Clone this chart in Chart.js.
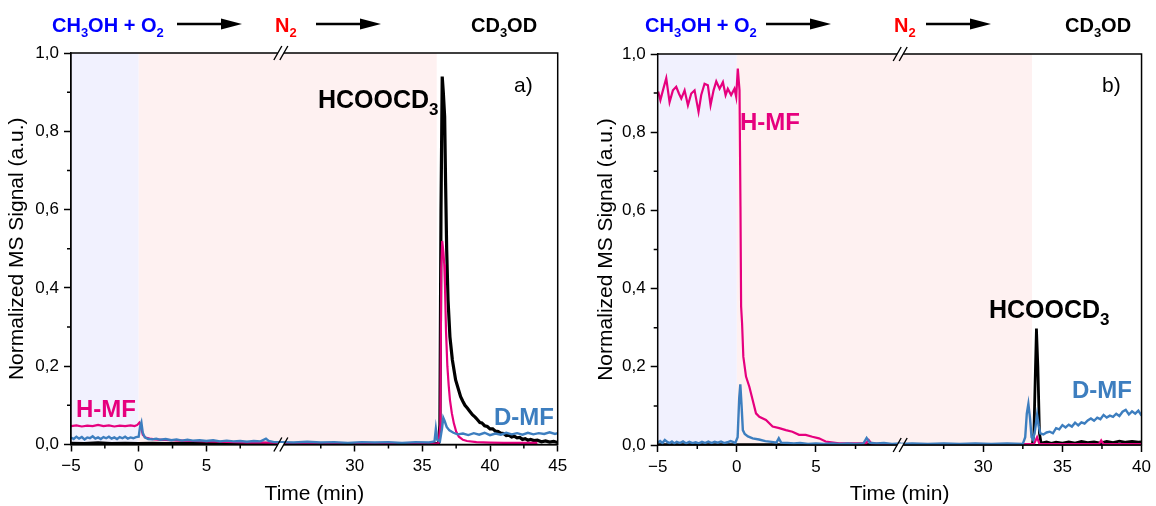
<!DOCTYPE html>
<html><head><meta charset="utf-8">
<script src="https://cdn.jsdelivr.net/npm/chart.js@4.4.0/dist/chart.umd.min.js"></script>
<style>
html,body{margin:0;padding:0;background:#fff;}
body{width:1156px;height:506px;overflow:hidden;position:relative;}
.cw{position:absolute;top:0;width:578px;height:506px;}
canvas{display:block;}
</style></head><body>
<div class="cw" style="left:0"><canvas id="ca" width="578" height="506"></canvas></div>
<div class="cw" style="left:578px"><canvas id="cb" width="578" height="506"></canvas></div>
<script>
// ---------------- DATA (time in min, normalized signal) ----------------
const yTicks = [0, 0.2, 0.4, 0.6, 0.8, 1.0];
const yMinor = [0.1, 0.3, 0.5, 0.7, 0.9];
const xMajorA = [-5, 0, 5, 30, 35, 40, 45];
const xMinorA = [-2.5, 2.5, 7.5, 27.5, 32.5, 37.5, 42.5];
const xMajorB = [-5, 0, 5, 30, 35, 40];
const xMinorB = [-2.5, 2.5, 7.5, 27.5, 32.5, 37.5];

// Panel a)
const aHMF = [[-5,0.047],[-4.6,0.049],[-4.2,0.046],[-3.8,0.048],[-3.4,0.047],[-3.0,0.05],[-2.6,0.047],[-2.2,0.049],[-1.8,0.046],[-1.4,0.048],[-1.0,0.047],[-0.6,0.049],[-0.3,0.047],[-0.1,0.05],[0.05,0.056],[0.15,0.05],[0.3,0.025],[0.5,0.018],[0.8,0.015],[1.2,0.013],[1.8,0.012],[2.5,0.011],[3.2,0.01],[4,0.009],[5,0.008],[6,0.007],[7,0.006],[8,0.005],[9,0.005],[10.3,0.004],
 [24.6,0.003],[27,0.003],[30,0.003],[33,0.002],[36.2,0.003],[36.33,0.05],[36.4,0.45],[36.47,0.52],[36.56,0.49],[36.62,0.46],[36.67,0.41],[36.75,0.29],[36.85,0.2],[36.95,0.15],[37.04,0.114],[37.18,0.08],[37.33,0.054],[37.5,0.033],[37.7,0.02],[38,0.012],[38.3,0.009],[39,0.006],[40,0.005],[41,0.004],[42,0.004],[43.5,0.004]];
const aDMF = [[-5,0.018],[-4.8,0.014],[-4.6,0.02],[-4.4,0.015],[-4.2,0.019],[-4.0,0.013],[-3.8,0.018],[-3.6,0.016],[-3.4,0.021],[-3.2,0.015],[-3.0,0.018],[-2.8,0.014],[-2.6,0.019],[-2.4,0.016],[-2.2,0.02],[-2.0,0.015],[-1.8,0.018],[-1.6,0.014],[-1.4,0.019],[-1.2,0.016],[-1.0,0.02],[-0.8,0.015],[-0.6,0.018],[-0.4,0.016],[-0.2,0.019],[0.0,0.02],[0.1,0.045],[0.2,0.056],[0.3,0.03],[0.45,0.018],[0.7,0.014],[1.0,0.013],[1.3,0.015],[1.6,0.012],[2.0,0.014],[2.4,0.011],[2.8,0.013],[3.2,0.01],[3.6,0.012],[4.0,0.01],[4.5,0.011],[5.0,0.009],[5.5,0.011],[6.0,0.008],[6.5,0.01],[7.0,0.008],[7.5,0.009],[8.0,0.007],[8.5,0.009],[9.0,0.008],[9.4,0.015],[9.6,0.009],[10.0,0.006],
 [24.6,0.006],[25.5,0.005],[26.5,0.007],[27.5,0.005],[28.5,0.006],[29.5,0.004],[30.5,0.006],[31.5,0.005],[32.5,0.006],[33.5,0.004],[34.5,0.006],[35.5,0.005],[35.9,0.008],[36.0,0.04],[36.1,0.012],[36.3,0.008],[36.45,0.04],[36.55,0.068],[36.65,0.06],[36.8,0.045],[37.0,0.036],[37.3,0.03],[37.6,0.026],[38.0,0.028],[38.4,0.024],[38.8,0.029],[39.2,0.025],[39.6,0.03],[40.0,0.024],[40.4,0.028],[40.8,0.025],[41.2,0.03],[41.6,0.026],[42.0,0.029],[42.4,0.025],[42.8,0.03],[43.2,0.026],[43.6,0.029],[44.0,0.027],[44.4,0.031],[44.8,0.027],[45,0.029]];
const aHCO = [[-5,0.003],[-4,0.002],[-3,0.004],[-2,0.002],[-1,0.003],[0,0.002],[1,0.003],[2,0.002],[3,0.003],[4,0.002],[5,0.003],[6,0.002],[7,0.003],[8,0.002],[9,0.003],[10.3,0.002],
 [24.6,0.002],[27,0.002],[30,0.002],[33,0.002],[35,0.002],[36.2,0.002],[36.3,0.05],[36.38,0.6],[36.47,0.94],[36.55,0.9],[36.65,0.837],[36.72,0.667],[36.8,0.497],[36.9,0.369],[37.04,0.275],[37.22,0.216],[37.46,0.165],[37.83,0.122],[38.0,0.11],[38.15,0.1],[38.32,0.093],[38.5,0.085],[38.7,0.076],[38.9,0.07],[39.06,0.064],[39.25,0.056],[39.4,0.055],[39.6,0.048],[39.8,0.046],[40.0,0.04],[40.2,0.04],[40.4,0.034],[40.6,0.033],[40.78,0.029],[41.0,0.028],[41.2,0.023],[41.4,0.024],[41.6,0.019],[41.8,0.021],[42.0,0.017],[42.2,0.018],[42.4,0.013],[42.6,0.015],[42.8,0.011],[43.0,0.013],[43.24,0.01],[43.5,0.011],[43.8,0.007],[44.1,0.009],[44.4,0.006],[44.7,0.008],[45.0,0.005]];

// Panel b)
const bHMF = [[-4.97,0.904],[-4.83,0.882],[-4.67,0.907],[-4.46,0.938],[-4.25,0.877],[-4.04,0.907],[-3.83,0.916],[-3.66,0.899],[-3.51,0.886],[-3.3,0.907],[-3.09,0.869],[-2.88,0.899],[-2.67,0.907],[-2.42,0.852],[-2.25,0.895],[-2.04,0.924],[-1.83,0.92],[-1.66,0.869],[-1.47,0.907],[-1.3,0.93],[-1.09,0.911],[-0.88,0.928],[-0.71,0.895],[-0.57,0.911],[-0.36,0.895],[-0.15,0.911],[-0.04,0.89],[0.06,0.963],[0.17,0.907],[0.23,0.61],[0.27,0.354],[0.33,0.312],[0.41,0.226],[0.58,0.175],[0.79,0.149],[1.0,0.115],[1.21,0.081],[1.42,0.072],[1.84,0.064],[2.26,0.047],[2.68,0.043],[3.1,0.038],[3.51,0.034],[3.93,0.026],[4.35,0.026],[4.77,0.021],[5.19,0.017],[5.61,0.009],[6.45,0.004],[7.29,0.004],[8.15,0.004],[8.33,0.013],[8.5,0.004],[8.96,0.003],[10.3,0.002],
 [24.8,0.002],[28,0.002],[31,0.002],[33.2,0.002],[33.4,0.02],[33.55,0.002],[36,0.002],[37.3,0.002],[37.45,0.012],[37.6,0.002],[40,0.002]];
const bDMF = [[-5,0.006],[-4.85,0.01],[-4.7,0.005],[-4.55,0.013],[-4.4,0.008],[-4.25,0.005],[-4.1,0.009],[-3.95,0.004],[-3.8,0.008],[-3.6,0.005],[-3.4,0.009],[-3.2,0.004],[-3.0,0.008],[-2.8,0.005],[-2.6,0.007],[-2.4,0.004],[-2.2,0.008],[-2.0,0.005],[-1.8,0.009],[-1.6,0.005],[-1.4,0.008],[-1.2,0.006],[-1.0,0.009],[-0.8,0.005],[-0.6,0.007],[-0.4,0.01],[-0.25,0.008],[-0.1,0.005],[0.05,0.02],[0.15,0.12],[0.22,0.155],[0.3,0.1],[0.38,0.038],[0.5,0.028],[0.7,0.022],[1.0,0.017],[1.4,0.014],[1.8,0.01],[2.2,0.008],[2.5,0.006],[2.65,0.017],[2.8,0.006],[3.2,0.005],[3.6,0.004],[4.0,0.005],[4.5,0.003],[5.0,0.004],[5.5,0.003],[6.0,0.004],[6.5,0.003],[7.0,0.004],[7.5,0.003],[8.0,0.004],[8.2,0.018],[8.4,0.006],[8.8,0.004],[9.3,0.005],[9.8,0.003],[10.3,0.004],
 [24.8,0.003],[25.5,0.004],[26.5,0.003],[27.5,0.004],[28.5,0.003],[29.5,0.004],[30.5,0.003],[31.5,0.004],[32.5,0.003],[32.65,0.02],[32.75,0.08],[32.85,0.105],[32.95,0.07],[33.05,0.02],[33.15,0.013],[33.28,0.04],[33.4,0.077],[33.5,0.05],[33.6,0.03],[33.8,0.027],[34.0,0.032],[34.2,0.034],[34.4,0.03],[34.6,0.043],[34.8,0.04],[35.0,0.051],[35.2,0.045],[35.4,0.052],[35.6,0.047],[35.8,0.057],[36.0,0.05],[36.2,0.058],[36.4,0.055],[36.6,0.063],[36.8,0.068],[37.0,0.062],[37.2,0.07],[37.4,0.066],[37.6,0.077],[37.8,0.07],[38.0,0.075],[38.2,0.072],[38.4,0.08],[38.6,0.074],[38.8,0.085],[39.0,0.09],[39.2,0.078],[39.4,0.086],[39.6,0.08],[39.8,0.088],[40.0,0.075]];
const bHCO = [[-5,0.001],[0,0.001],[5,0.001],[10.3,0.001],[24.8,0.001],[30,0.001],[33.1,0.002],[33.2,0.03],[33.3,0.2],[33.36,0.298],[33.45,0.2],[33.55,0.03],[33.65,0.005],[34,0.008],[34.3,0.004],[34.6,0.007],[35,0.005],[35.4,0.008],[35.8,0.005],[36.2,0.009],[36.6,0.006],[37,0.008],[37.4,0.005],[37.8,0.009],[38.2,0.006],[38.6,0.01],[39,0.007],[39.4,0.009],[39.8,0.007],[40,0.008]];

// ---------------- STYLE ----------------
const FONT = '"Liberation Sans", Arial, Helvetica, sans-serif';
const C_H = '#E6007E', C_D = '#3D7EBF', C_K = '#000000';
const BLUE_BG = '#F1F1FE', PINK_BG = '#FEF1F1';

function richText(ctx, x, y, parts, size, color, weight){
  let cx = x;
  ctx.fillStyle = color; ctx.textAlign = 'left'; ctx.textBaseline = 'alphabetic';
  parts.forEach(p => {
    const sub = p[1] === 1; const fs = sub ? Math.round(size * 0.66) : size;
    ctx.font = (weight||'bold') + ' ' + fs + 'px ' + FONT;
    ctx.fillText(p[0], cx, sub ? y + size * 0.26 : y);
    cx += ctx.measureText(p[0]).width;
  });
}
function arrow(ctx, x0, x1, y){
  ctx.save(); ctx.strokeStyle = '#000'; ctx.fillStyle = '#000'; ctx.lineWidth = 2.5;
  ctx.beginPath(); ctx.moveTo(x0, y); ctx.lineTo(x1 - 18, y); ctx.stroke();
  ctx.beginPath(); ctx.moveTo(x1, y); ctx.lineTo(x1 - 21, y - 5.5); ctx.lineTo(x1 - 21, y + 5.5); ctx.closePath(); ctx.fill();
  ctx.restore();
}

function makeChart(id, cfg){
  const B1 = cfg.B1, D = cfg.B2 - cfg.B1;
  const fx = t => (t <= B1 ? t : t - D);
  const pts = arr => arr.map(p => ({x: fx(p[0]), y: p[1]}));
  const labels = cfg.majors.map(v => (v < 0 ? '\u2212' + Math.abs(v) : String(v)));
  const deco = {
    id: 'deco',
    beforeDatasetsDraw(chart){
      const {ctx, chartArea: a, scales: {x}} = chart;
      ctx.save();
      cfg.bands.forEach(b => {
        const x0 = x.getPixelForValue(fx(b[0])), x1 = x.getPixelForValue(fx(b[1]));
        ctx.fillStyle = b[2]; ctx.fillRect(x0, a.top, x1 - x0, a.bottom - a.top);
      });
      ctx.restore();
    },
    afterDraw(chart){
      const {ctx, chartArea: a, scales: {x, y}} = chart;
      ctx.save();
      ctx.strokeStyle = '#000'; ctx.lineWidth = 1.5;
      ctx.strokeRect(a.left, a.top, a.right - a.left, a.bottom - a.top);
      ctx.beginPath();
      cfg.minors.forEach(t => { const px = x.getPixelForValue(fx(t)); ctx.moveTo(px, a.bottom); ctx.lineTo(px, a.bottom + 4); });
      yMinor.forEach(v => { const py = y.getPixelForValue(v); ctx.moveTo(a.left, py); ctx.lineTo(a.left - 4, py); });
      ctx.stroke();
      const pb = x.getPixelForValue(B1);
      [a.top, a.bottom].forEach(yy => {
        ctx.fillStyle = '#fff';
        ctx.fillRect(pb - 3, yy - 1.5, 6, 3);
        ctx.beginPath();
        [-3, 3].forEach(o => { ctx.moveTo(pb + o - 4, yy + 7); ctx.lineTo(pb + o + 4, yy - 7); });
        ctx.lineWidth = 1.4; ctx.stroke();
      });
      ctx.restore();
      ctx.save();
      const h = cfg.head;
      richText(ctx, h[0], 32, [['CH'], ['3', 1], ['OH + O'], ['2', 1]], 20, '#0000FF');
      arrow(ctx, h[1], h[2], 24);
      richText(ctx, h[3], 32, [['N'], ['2', 1]], 20, '#FF0000');
      arrow(ctx, h[4], h[5], 24);
      richText(ctx, h[6], 32, [['CD'], ['3', 1], ['OD']], 20, '#000');
      cfg.texts.forEach(t => richText(ctx, t[0], t[1], t[2], t[3], t[4], t[5]));
      ctx.restore();
    }
  };
  const ds = (data, color, w) => ({data: pts(data), borderColor: color, borderWidth: w, pointRadius: 0, tension: 0, fill: false});
  return new Chart(document.getElementById(id), {
    type: 'line',
    data: {datasets: [ds(cfg.dmf, C_D, 2.4), ds(cfg.hmf, C_H, 2.2), ds(cfg.hco, C_K, cfg.kw)]},
    options: {
      responsive: false, animation: false, events: [],
      layout: {padding: {left: 0, right: cfg.padR, top: cfg.top, bottom: 0}},
      plugins: {legend: {display: false}, tooltip: {enabled: false}},
      scales: {
        x: {
          type: 'linear', min: -5, max: fx(cfg.xmax),
          afterBuildTicks: s => { s.ticks = cfg.majors.map(t => ({value: fx(t)})); },
          afterFit: s => { s.height = 506 - cfg.bottom; },
          ticks: {callback: (v, i) => labels[i], color: '#000', font: {family: FONT, size: 17}, padding: 5, maxRotation: 0, autoSkip: false},
          grid: {drawOnChartArea: false, drawTicks: true, tickLength: 7, tickColor: '#000', tickWidth: 1.5},
          border: {display: true, color: '#000', width: 1.5},
          title: {display: true, text: 'Time (min)', color: '#000', font: {family: FONT, size: 21}, padding: {top: 0, bottom: -1}}
        },
        y: {
          type: 'linear', min: 0, max: 1,
          afterBuildTicks: s => { s.ticks = yTicks.map(v => ({value: v})); },
          afterFit: s => { s.width = cfg.yw; },
          ticks: {callback: v => v.toFixed(1).replace('.', ','), color: '#000', font: {family: FONT, size: 17}, padding: 5},
          grid: {drawOnChartArea: false, drawTicks: true, tickLength: 7, tickColor: '#000', tickWidth: 1.5},
          border: {display: true, color: '#000', width: 1.5},
          title: {display: true, text: 'Normalized MS Signal (a.u.)', color: '#000', font: {family: FONT, size: 21}, padding: {top: cfg.ytp, bottom: 0}}
        }
      }
    },
    plugins: [deco]
  });
}

makeChart('ca', {
  B1: 10.5, B2: 24.55, xmax: 45, majors: xMajorA, minors: xMinorA,
  padR: 20.3, top: 53, bottom: 444.5, yw: 71, ytp: 5, kw: 3.2,
  hmf: aHMF, dmf: aDMF, hco: aHCO,
  bands: [[-5, 0, BLUE_BG], [0, 36.06, PINK_BG]],
  head: [52, 177, 242, 275, 316, 381, 471],
  texts: [
    [318, 108, [['HCOOCD'], ['3', 1]], 25, '#000'],
    [514, 92, [['a)']], 21, '#000', 'normal'],
    [76, 417, [['H-MF']], 24, C_H],
    [494, 425, [['D-MF']], 24, C_D]
  ]
});
makeChart('cb', {
  B1: 10.32, B2: 24.75, xmax: 40, majors: xMajorB, minors: xMinorB,
  padR: 11.7, top: 54, bottom: 445, yw: 79.7, ytp: 16, kw: 2.8,
  hmf: bHMF, dmf: bDMF, hco: bHCO,
  bands: [[-5, 0, BLUE_BG], [0, 33.08, PINK_BG]],
  head: [67, 188, 253, 316, 348, 413, 487],
  texts: [
    [162, 130, [['H-MF']], 24, C_H],
    [524, 92, [['b)']], 21, '#000', 'normal'],
    [411, 318, [['HCOOCD'], ['3', 1]], 25, '#000'],
    [494, 398, [['D-MF']], 24, C_D]
  ]
});
</script>
</body></html>
